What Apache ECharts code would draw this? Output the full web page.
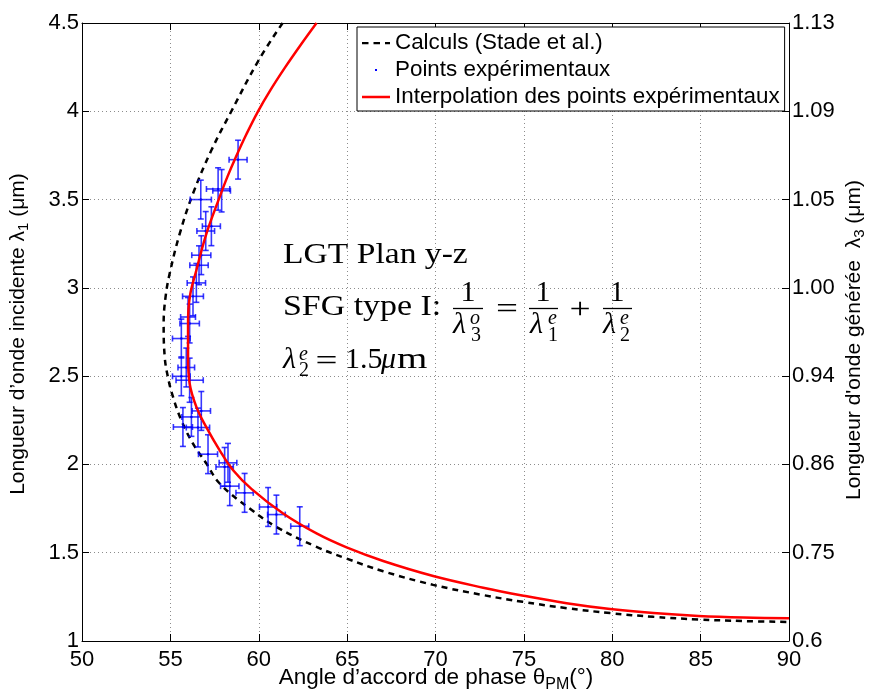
<!DOCTYPE html>
<html><head><meta charset="utf-8">
<script src="https://cdn.jsdelivr.net/npm/echarts@6/dist/echarts.min.js"></script>
<style>html,body{margin:0;padding:0;background:#fff}#c{width:872px;height:695px}</style>
</head><body><div id="c"></div>
<script>
// ---------- data ----------
const leftTickLabels  = ['1','1.5','2','2.5','3','3.5','4','4.5'];
const rightTickLabels = ['0.6','0.75','0.86','0.94','1.00','1.05','1.09','1.13'];

// Calculs (Stade et al.) : angle (deg) / lambda1 (um)
const stadeTheta  = [61.35,60.0,58.45,57.32,56.28,55.53,54.96,54.73,54.62,54.68,54.86,55.15,55.62,56.28,57.04,57.79,59.49,61.0,63.27,64.97,67.04,69.87,72.70,74.93,77.42,79.88,82.33,84.88,87.43,90.0];
const stadeLambda = [4.5,4.29,4.0,3.779,3.534,3.307,3.081,2.95,2.798,2.609,2.495,2.382,2.25,2.118,2.005,1.892,1.750,1.646,1.533,1.467,1.395,1.318,1.260,1.222,1.186,1.158,1.137,1.122,1.113,1.108];

// Interpolation des points expérimentaux
const fitTheta  = [63.27,62.33,61.5,60.66,59.96,59.30,58.70,58.23,57.79,57.04,56.47,56.1,56.0,56.0,56.09,56.47,57.04,57.79,58.55,59.6,61.38,63.27,64.97,67.04,69.87,72.7,74.9,77.42,79.88,82.33,84.88,87.43,90.0];
const fitLambda = [4.5,4.37,4.25,4.12,4.0,3.87,3.74,3.63,3.515,3.307,3.10,2.95,2.80,2.61,2.458,2.326,2.21,2.08,1.967,1.86,1.722,1.609,1.530,1.453,1.368,1.302,1.258,1.214,1.181,1.158,1.142,1.133,1.129];

// Points expérimentaux with error bars
const expTheta     = [58.83,57.70,57.90,56.72,57.32,57.00,56.75,56.62,56.47,56.28,56.00,56.09,55.62,55.90,55.62,56.09,56.75,56.19,55.71,56.56,57.13,58.26,58.07,58.36,59.20,60.53,61.00,62.32];
const expLambda    = [3.726,3.56,3.55,3.50,3.349,3.322,3.185,3.128,3.028,2.952,2.835,2.798,2.713,2.549,2.499,2.477,2.303,2.269,2.212,2.209,2.058,2.009,1.986,1.877,1.839,1.759,1.716,1.650];
const expThetaErr  = [0.51,0.66,0.50,0.60,0.51,0.50,0.54,0.52,0.52,0.59,0.42,0.55,0.50,0.47,0.50,0.77,0.52,0.54,0.54,0.66,0.54,0.50,0.49,0.52,0.49,0.49,0.50,0.51];
const expLambdaErr = [0.11,0.12,0.12,0.11,0.11,0.11,0.11,0.11,0.11,0.11,0.11,0.11,0.11,0.11,0.11,0.125,0.11,0.11,0.11,0.11,0.11,0.11,0.11,0.11,0.11,0.11,0.11,0.11];

// ---------- build ----------
const stadeData = stadeTheta.map((t,i)=>[t, stadeLambda[i]]);
const fitData   = fitTheta.map((t,i)=>[t, fitLambda[i]]);
const expData   = expTheta.map((t,i)=>[t, expLambda[i], expThetaErr[i], expLambdaErr[i]]);

const SANS = 'Liberation Sans';
const SERIF = 'Liberation Serif';
const gridLine = {show:true, lineStyle:{color:'#8c8c8c', type:[1,3], width:1}};

const chart = echarts.init(document.getElementById('c'), null, {renderer:'canvas'});

function txt(x, y, text, size, italic, align, sx) {
  return {type:'text', x:x, y:y, scaleX:sx||1, silent:true, style:{text:text, font:(italic?'italic ':'')+size+'px "'+SERIF+'"', fill:'#000', align:align||'left', verticalAlign:'middle'}};
}
function bar(x1, x2, y) {
  return {type:'line', silent:true, shape:{x1:x1,y1:y,x2:x2,y2:y}, style:{stroke:'#000', lineWidth:1.3}};
}

const annot = [
  txt(283, 255, 'LGT Plan y-z', 30, false, 'left', 1.12),
  txt(283, 307, 'SFG type I:', 30, false, 'left', 1.13),
  txt(468, 293, '1', 30, false, 'center'), bar(453,483,308.5),
  txt(453, 325, 'λ', 30, true), txt(470, 319, 'o', 20, true), txt(471, 336, '3', 20),
  txt(507, 310, '=', 30, false, 'center', 1.3),
  txt(543, 293, '1', 30, false, 'center'), bar(529,558,308.5),
  txt(530, 325, 'λ', 30, true), txt(548, 319, 'e', 20, true), txt(548, 336, '1', 20),
  txt(580, 310, '+', 30, false, 'center', 1.25),
  txt(617, 293, '1', 30, false, 'center'), bar(603,632,308.5),
  txt(603, 325, 'λ', 30, true), txt(620, 319, 'e', 20, true), txt(620, 336, '2', 20),
  txt(283, 360, 'λ', 30, true), txt(299, 355, 'e', 20, true), txt(299, 371, '2', 20),
  txt(326.5, 362, '=', 30, false, 'center', 1.3),
  txt(345, 360, '1.5', 30), txt(381, 360, 'μ', 30, true), txt(397, 360, 'm', 30, false, 'left', 1.3)
];

const titleRich = {
  a:{fontFamily:SANS, fontSize:21, color:'#000'},
  s:{fontFamily:SANS, fontSize:15, color:'#000', padding:[12,0,0,0]}
};
const xTitleRich = {
  a:{fontFamily:SANS, fontSize:22.5, color:'#000'},
  s:{fontFamily:SANS, fontSize:16, color:'#000', padding:[13,0,0,0]}
};
const titles = [
  {type:'text', x:436, y:678, silent:true, style:{rich:xTitleRich, text:'{a|Angle d’accord de phase θ}{s|PM}{a|(°)}', align:'center', verticalAlign:'middle'}},
  {type:'text', x:18, y:334, rotation:Math.PI/2, silent:true, style:{rich:titleRich, text:'{a|Longueur d’onde incidente λ}{s|1}{a| (μm)}', align:'center', verticalAlign:'middle'}},
  {type:'text', x:854, y:340, rotation:Math.PI/2, silent:true, style:{rich:titleRich, text:'{a|Longueur d\'onde générée  λ}{s|3}{a| (μm)}', align:'center', verticalAlign:'middle'}}
];

const corners = 'M0,0h0.01v0.01h-0.01z M27.99,13.99h0.01v0.01h-0.01z ';
const option = {
  animation:false,
  backgroundColor:'#fff',
  grid:{left:82, right:83, top:23, bottom:54, outerBoundsMode:'none', containLabel:false},
  legend:{
    left:357, top:27, orient:'vertical',
    padding:[5,5,3,5], itemGap:5, itemWidth:28, itemHeight:14,
    backgroundColor:'#fff', borderColor:'#000', borderWidth:1, borderRadius:0,
    textStyle:{fontFamily:SANS, fontSize:22.4, color:'#000', lineHeight:22},
    data:[
      {name:'Calculs (Stade et al.)', icon:'path://'+corners+'M0,6h6.5v2.2h-6.5z M11.5,6h6.5v2.2h-6.5z M23,6h5v2.2h-5z', itemStyle:{color:'#000'}},
      {name:'Points expérimentaux', icon:'path://'+corners+'M13,6h2v2h-2z', itemStyle:{color:'#0000ff'}},
      {name:'Interpolation des points expérimentaux', icon:'path://'+corners+'M0,5.8h28v2.4h-28z', itemStyle:{color:'#ff0000'}}
    ]
  },
  xAxis:[
    {type:'value', min:50, max:90, interval:5, position:'bottom',
     axisLine:{show:true, onZero:false, lineStyle:{color:'#000', width:1}},
     axisTick:{show:true, inside:true, length:7, lineStyle:{color:'#000'}},
     axisLabel:{show:true, margin:8, fontFamily:SANS, fontSize:22, color:'#000', showMinLabel:true, showMaxLabel:true, hideOverlap:false},
     splitLine:gridLine},
    {type:'value', min:50, max:90, interval:5, position:'top',
     axisLine:{show:true, onZero:false, lineStyle:{color:'#000', width:1}},
     axisTick:{show:true, inside:true, length:7, lineStyle:{color:'#000'}},
     axisLabel:{show:false}, splitLine:{show:false}}
  ],
  yAxis:[
    {type:'value', min:1, max:4.5, interval:0.5, position:'left',
     axisLine:{show:true, onZero:false, lineStyle:{color:'#000', width:1}},
     axisTick:{show:true, inside:true, length:7, lineStyle:{color:'#000'}},
     axisLabel:{show:true, margin:3, fontFamily:SANS, fontSize:22, color:'#000', showMinLabel:true, showMaxLabel:true, hideOverlap:false,
       formatter:(v)=>leftTickLabels[Math.round((v-1)/0.5)]},
     splitLine:gridLine},
    {type:'value', min:1, max:4.5, interval:0.5, position:'right',
     axisLine:{show:true, onZero:false, lineStyle:{color:'#000', width:1}},
     axisTick:{show:true, inside:true, length:7, lineStyle:{color:'#000'}},
     axisLabel:{show:true, margin:3, fontFamily:SANS, fontSize:22, color:'#000', showMinLabel:true, showMaxLabel:true, hideOverlap:false,
       formatter:(v)=>rightTickLabels[Math.round((v-1)/0.5)]},
     splitLine:{show:false}}
  ],
  series:[
    {name:'Calculs (Stade et al.)', type:'line', data:stadeData, xAxisIndex:0, yAxisIndex:0,
     symbol:'none', smooth:0.4, clip:true,
     itemStyle:{color:'#000'},
     lineStyle:{color:'#000', width:2.5, type:[6,5]}, z:3},
    {name:'Points expérimentaux', type:'custom', data:expData, xAxisIndex:0, yAxisIndex:0,
     itemStyle:{color:'#0000ff'}, z:4,
     renderItem:function(params, api){
       const x=api.value(0), y=api.value(1), ex=api.value(2), ey=api.value(3);
       const c=api.coord([x,y]), l=api.coord([x-ex,y]), r=api.coord([x+ex,y]);
       const t=api.coord([x,y+ey]), b=api.coord([x,y-ey]);
       const cap=3;
       const st={stroke:'rgba(0,0,255,0.78)', lineWidth:1.6, fill:null};
       return {type:'group', children:[
         {type:'line', shape:{x1:l[0],y1:l[1],x2:r[0],y2:r[1]}, style:st},
         {type:'line', shape:{x1:l[0],y1:l[1]-cap,x2:l[0],y2:l[1]+cap}, style:st},
         {type:'line', shape:{x1:r[0],y1:r[1]-cap,x2:r[0],y2:r[1]+cap}, style:st},
         {type:'line', shape:{x1:t[0],y1:t[1],x2:b[0],y2:b[1]}, style:st},
         {type:'line', shape:{x1:t[0]-cap,y1:t[1],x2:t[0]+cap,y2:t[1]}, style:st},
         {type:'line', shape:{x1:b[0]-cap,y1:b[1],x2:b[0]+cap,y2:b[1]}, style:st},
         {type:'circle', shape:{cx:c[0],cy:c[1],r:1.2}, style:{fill:'#0000ff'}}
       ]};
     }},
    {name:'Interpolation des points expérimentaux', type:'line', data:fitData, xAxisIndex:0, yAxisIndex:0,
     symbol:'none', smooth:0.4, clip:true,
     itemStyle:{color:'#ff0000'},
     lineStyle:{color:'#ff0000', width:2.5}, z:5}
  ],
  graphic:[].concat(annot, titles)
};
chart.setOption(option);
</script>
</body></html>
